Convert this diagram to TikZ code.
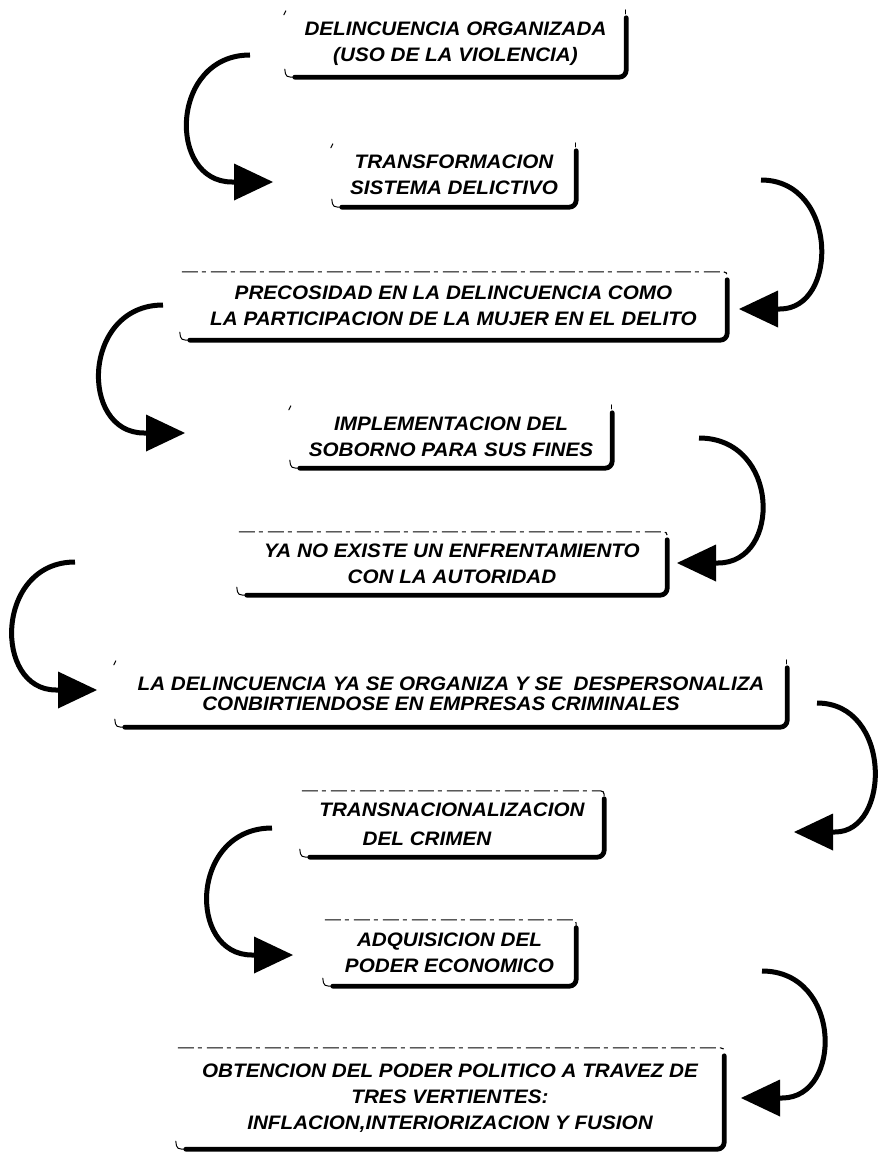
\documentclass[tikz,border=0pt]{standalone}
\usepackage{fontspec}
\newfontfamily\boxfont[FakeStretch=1.06]{Liberation Sans}
\usetikzlibrary{arrows.meta}
\newcommand\outlineheavy[1]{%
  \draw[heavy] ([yshift=-8pt]#1.north east) -- (#1.south east) -- ([xshift=10pt]#1.south west);
  \draw[thinedge] ([xshift=12pt]#1.south west) .. controls ([xshift=1pt]#1.south west) .. ([yshift=8pt]#1.south west);}
\newcommand\outlinetop[1]{%
  \draw[topdash] ([xshift=2pt]#1.north west) -- ([xshift=-8pt]#1.north east) .. controls (#1.north east) .. ([yshift=-8pt]#1.north east);}
\newcommand\outlineticks[1]{%
  \draw[thinedge] ([xshift=-1pt,yshift=-5pt]#1.north west) -- ([xshift=1pt,yshift=-1pt]#1.north west);
  \draw[thinedge] ([xshift=-1pt]#1.north east) -- ([xshift=-1pt,yshift=-4pt]#1.north east);}
\begin{document}
\begin{tikzpicture}[x=1pt,y=-1pt,
  box/.style={inner sep=0pt, align=center, font=\boxfont\bfseries\itshape\fontsize{19.5}{26}\selectfont},
  heavy/.style={line width=4.8pt, line cap=round, line join=round, rounded corners=7pt},
  thinedge/.style={line width=1pt, line cap=round},
  topdash/.style={line width=1.1pt, dash pattern=on 16pt off 4pt on 4pt off 5pt},
  conn/.style={line width=5pt, -{Triangle[length=39pt,width=37pt,line width=0pt]}}]
\useasboundingbox (0,0) rectangle (879,1153);

% boxes
\node[box, minimum width=341pt, minimum height=67pt] (b1) at (455.5,43.5)
  {DELINCUENCIA ORGANIZADA\\(USO DE LA VIOLENCIA)};
\node[box, minimum width=244pt, minimum height=64pt] (b2) at (454,175)
  {TRANSFORMACION\\SISTEMA DELICTIVO};
\node[box, minimum width=547pt, minimum height=68pt] (b3) at (453.5,306)
  {PRECOSIDAD EN LA DELINCUENCIA COMO\\LA PARTICIPACION DE LA MUJER EN EL DELITO};
\node[box, minimum width=322pt, minimum height=63pt] (b4) at (451,436.5)
  {IMPLEMENTACION DEL\\SOBORNO PARA SUS FINES};
\node[box, minimum width=430pt, minimum height=63pt] (b5) at (452,563.5)
  {YA NO EXISTE UN ENFRENTAMIENTO\\CON LA AUTORIDAD};
\node[box, minimum width=672pt, minimum height=67pt,
  font=\boxfont\bfseries\itshape\fontsize{19.5}{20}\selectfont] (b6) at (451,693.5)
  {LA DELINCUENCIA YA SE ORGANIZA Y SE \ DESPERSONALIZA\\CONBIRTIENDOSE EN EMPRESAS CRIMINALES\hspace*{20pt}};
\node[box, minimum width=304pt, minimum height=66pt,
  font=\boxfont\bfseries\itshape\fontsize{19.5}{29}\selectfont] (b7) at (452,824)
  {TRANSNACIONALIZACION\\DEL CRIMEN\hspace*{50pt}};
\node[box, minimum width=253pt, minimum height=66pt] (b8) at (449.5,953)
  {ADQUISICION DEL\\PODER ECONOMICO};
\node[box, minimum width=548pt, minimum height=101pt] (b9) at (450,1098.5)
  {OBTENCION DEL PODER POLITICO A TRAVEZ DE\\TRES VERTIENTES:\\INFLACION,INTERIORIZACION Y FUSION};

% outlines
\foreach \b in {b1,b2,b3,b4,b5,b6,b7,b8,b9} {\outlineheavy{\b}}
\foreach \b in {b3,b5,b7,b8,b9} {\outlinetop{\b}}
\foreach \b in {b1,b2,b4,b6} {\outlineticks{\b}}

% connector ends
\coordinate (s1) at (250,55);   \coordinate (t1) at (273,182);
\coordinate (s2) at (761,180);  \coordinate (t2) at (739,309);
\coordinate (s3) at (163,305);  \coordinate (t3) at (185,433);
\coordinate (s4) at (699,438);  \coordinate (t4) at (677,563);
\coordinate (s5) at (75,562);   \coordinate (t5) at (97,690);
\coordinate (s6) at (817,703);  \coordinate (t6) at (794,832);
\coordinate (s7) at (272,828);  \coordinate (t7) at (293,955);
\coordinate (s8) at (762,971);  \coordinate (t8) at (741,1098);

% connectors
\draw[conn] (s1) .. controls +(-80,0) and +(-65,0) .. ([xshift=-41pt]t1) -- (t1);
\draw[conn] (s2) .. controls +(77,0) and +(59,0) .. ([xshift=41pt]t2) -- (t2);
\draw[conn] (s3) .. controls +(-81,0) and +(-65,0) .. ([xshift=-41pt]t3) -- (t3);
\draw[conn] (s4) .. controls +(81,0) and +(64,0) .. ([xshift=41pt]t4) -- (t4);
\draw[conn] (s5) .. controls +(-80,0) and +(-63,0) .. ([xshift=-41pt]t5) -- (t5);
\draw[conn] (s6) .. controls +(75,0) and +(56,0) .. ([xshift=41pt]t6) -- (t6);
\draw[conn] (s7) .. controls +(-82,0) and +(-65,0) .. ([xshift=-41pt]t7) -- (t7);
\draw[conn] (s8) .. controls +(80,0) and +(61,0) .. ([xshift=41pt]t8) -- (t8);
\end{tikzpicture}
\end{document}
